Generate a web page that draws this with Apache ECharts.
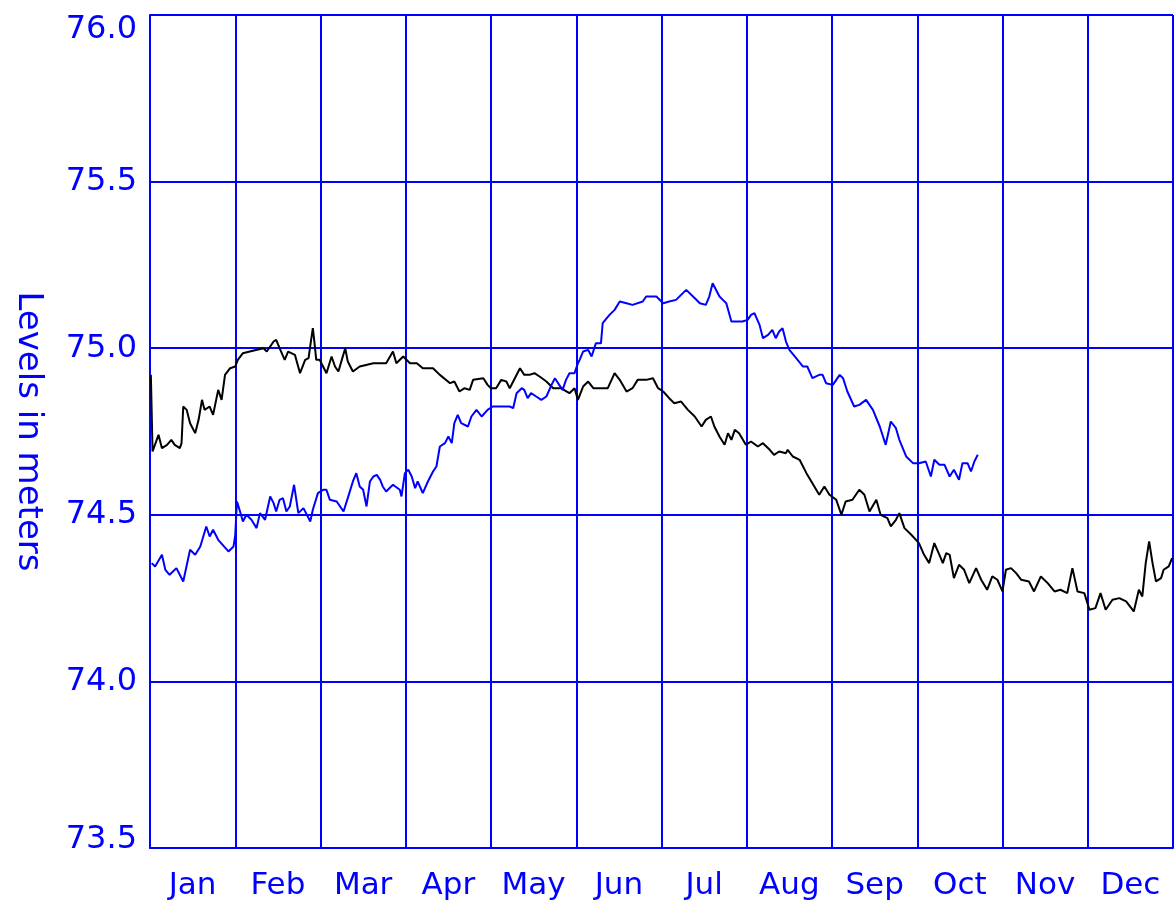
<!DOCTYPE html>
<html>
<head>
<meta charset="utf-8">
<script src="https://cdn.jsdelivr.net/npm/echarts@6/dist/echarts.min.js"></script>
<style>
html,body{margin:0;padding:0;background:#fff;}
#chart{width:1174px;height:902px;}
</style>
</head>
<body>
<div id="chart"></div>
<script>
// Month labels (x in month units: 0 = Jan 1, 12 = end of Dec)
var months = ['Jan','Feb','Mar','Apr','May','Jun','Jul','Aug','Sep','Oct','Nov','Dec'];
var yTicks = [73.5, 74.0, 74.5, 75.0, 75.5, 76.0];

// Black series: [month position, level in meters]
var blackLevels = [
[0.01,74.92],[0.03,74.69],[0.10,74.74],[0.14,74.70],[0.20,74.71],[0.25,74.725],[0.29,74.71],[0.35,74.70],[0.37,74.715],[0.39,74.825],[0.43,74.815],[0.47,74.775],[0.53,74.745],[0.57,74.785],[0.61,74.845],[0.64,74.815],[0.70,74.825],[0.74,74.80],[0.80,74.875],[0.84,74.845],[0.88,74.92],[0.94,74.94],[1.00,74.945],[1.03,74.965],[1.09,74.985],[1.17,74.99],[1.33,75.0],[1.37,74.99],[1.45,75.02],[1.48,75.025],[1.52,75.0],[1.58,74.965],[1.62,74.99],[1.70,74.98],[1.76,74.925],[1.82,74.965],[1.86,74.97],[1.89,75.025],[1.91,75.06],[1.93,75.015],[1.95,74.965],[1.99,74.965],[2.03,74.945],[2.07,74.925],[2.13,74.975],[2.17,74.945],[2.21,74.93],[2.25,74.965],[2.29,75.0],[2.32,74.96],[2.38,74.93],[2.46,74.945],[2.62,74.955],[2.77,74.955],[2.85,74.99],[2.89,74.955],[2.97,74.975],[3.05,74.955],[3.13,74.955],[3.20,74.94],[3.32,74.94],[3.40,74.92],[3.52,74.895],[3.57,74.90],[3.63,74.87],[3.69,74.88],[3.75,74.875],[3.79,74.905],[3.91,74.91],[3.96,74.89],[4.00,74.88],[4.06,74.88],[4.12,74.905],[4.18,74.90],[4.22,74.88],[4.28,74.91],[4.34,74.94],[4.39,74.92],[4.45,74.92],[4.51,74.925],[4.57,74.915],[4.65,74.90],[4.73,74.88],[4.82,74.88],[4.92,74.865],[4.98,74.88],[5.02,74.845],[5.08,74.885],[5.14,74.90],[5.20,74.88],[5.27,74.88],[5.37,74.88],[5.45,74.925],[5.51,74.905],[5.59,74.87],[5.66,74.88],[5.72,74.905],[5.82,74.905],[5.90,74.91],[5.96,74.88],[6.02,74.87],[6.09,74.85],[6.15,74.835],[6.23,74.84],[6.31,74.815],[6.39,74.795],[6.47,74.765],[6.52,74.785],[6.58,74.795],[6.62,74.765],[6.68,74.735],[6.74,74.71],[6.78,74.745],[6.82,74.725],[6.86,74.755],[6.91,74.745],[6.99,74.71],[7.05,74.72],[7.13,74.705],[7.19,74.715],[7.27,74.695],[7.32,74.68],[7.38,74.69],[7.46,74.685],[7.48,74.695],[7.54,74.675],[7.62,74.665],[7.70,74.625],[7.77,74.595],[7.85,74.56],[7.91,74.585],[7.97,74.56],[8.05,74.545],[8.11,74.50],[8.16,74.54],[8.24,74.545],[8.32,74.575],[8.38,74.56],[8.44,74.51],[8.52,74.545],[8.57,74.50],[8.65,74.49],[8.69,74.465],[8.75,74.485],[8.79,74.505],[8.85,74.46],[8.93,74.44],[9.02,74.415],[9.08,74.38],[9.14,74.355],[9.20,74.415],[9.26,74.38],[9.30,74.355],[9.34,74.385],[9.38,74.38],[9.43,74.31],[9.49,74.35],[9.55,74.335],[9.61,74.295],[9.69,74.34],[9.75,74.305],[9.82,74.275],[9.88,74.315],[9.94,74.305],[10.00,74.27],[10.04,74.335],[10.10,74.34],[10.16,74.325],[10.22,74.305],[10.31,74.30],[10.37,74.27],[10.45,74.315],[10.53,74.295],[10.61,74.27],[10.68,74.275],[10.76,74.265],[10.82,74.34],[10.88,74.27],[10.96,74.265],[11.02,74.215],[11.09,74.22],[11.15,74.265],[11.21,74.215],[11.29,74.245],[11.37,74.25],[11.45,74.24],[11.54,74.21],[11.60,74.275],[11.64,74.255],[11.68,74.355],[11.72,74.42],[11.76,74.355],[11.80,74.30],[11.86,74.31],[11.89,74.335],[11.95,74.345],[11.99,74.37]
];

// Blue series: [month position, level in meters]
var blueLevels = [
[0.02,74.355],[0.06,74.345],[0.14,74.38],[0.18,74.335],[0.23,74.32],[0.31,74.34],[0.39,74.30],[0.47,74.395],[0.53,74.38],[0.59,74.405],[0.66,74.465],[0.70,74.435],[0.74,74.455],[0.80,74.425],[0.92,74.39],[0.98,74.405],[1.00,74.44],[1.02,74.54],[1.05,74.515],[1.09,74.48],[1.13,74.50],[1.19,74.485],[1.25,74.46],[1.29,74.505],[1.35,74.485],[1.41,74.555],[1.45,74.535],[1.48,74.51],[1.52,74.545],[1.56,74.55],[1.60,74.51],[1.64,74.525],[1.69,74.59],[1.74,74.505],[1.80,74.52],[1.88,74.48],[1.91,74.515],[1.97,74.565],[2.03,74.575],[2.07,74.575],[2.11,74.545],[2.19,74.54],[2.27,74.51],[2.32,74.55],[2.38,74.60],[2.42,74.625],[2.46,74.585],[2.50,74.575],[2.54,74.525],[2.58,74.60],[2.62,74.615],[2.66,74.62],[2.70,74.605],[2.73,74.585],[2.77,74.57],[2.85,74.59],[2.93,74.575],[2.95,74.555],[2.99,74.625],[3.03,74.635],[3.07,74.615],[3.11,74.58],[3.14,74.60],[3.20,74.565],[3.26,74.60],[3.32,74.63],[3.36,74.645],[3.40,74.705],[3.46,74.715],[3.50,74.735],[3.54,74.715],[3.57,74.775],[3.61,74.80],[3.65,74.775],[3.73,74.765],[3.77,74.795],[3.83,74.815],[3.89,74.795],[3.96,74.815],[4.02,74.825],[4.14,74.825],[4.22,74.825],[4.26,74.82],[4.30,74.865],[4.36,74.88],[4.39,74.875],[4.43,74.85],[4.47,74.865],[4.53,74.855],[4.59,74.845],[4.65,74.855],[4.71,74.89],[4.75,74.91],[4.80,74.89],[4.84,74.875],[4.88,74.905],[4.92,74.925],[4.98,74.925],[5.02,74.955],[5.04,74.965],[5.08,74.99],[5.14,74.995],[5.18,74.975],[5.23,75.015],[5.29,75.015],[5.31,75.075],[5.39,75.10],[5.45,75.115],[5.51,75.14],[5.59,75.135],[5.66,75.13],[5.78,75.14],[5.82,75.155],[5.94,75.155],[6.02,75.135],[6.09,75.14],[6.17,75.145],[6.29,75.175],[6.37,75.155],[6.45,75.135],[6.52,75.13],[6.56,75.155],[6.60,75.195],[6.68,75.155],[6.72,75.145],[6.76,75.135],[6.82,75.08],[6.88,75.08],[6.95,75.08],[7.01,75.085],[7.05,75.10],[7.09,75.105],[7.15,75.07],[7.19,75.03],[7.25,75.04],[7.30,75.055],[7.34,75.03],[7.38,75.05],[7.42,75.06],[7.46,75.02],[7.50,74.995],[7.58,74.97],[7.66,74.945],[7.71,74.945],[7.77,74.91],[7.85,74.92],[7.89,74.92],[7.93,74.895],[8.01,74.89],[8.09,74.92],[8.13,74.91],[8.18,74.87],[8.26,74.825],[8.32,74.83],[8.40,74.845],[8.48,74.815],[8.56,74.765],[8.63,74.71],[8.69,74.78],[8.75,74.76],[8.79,74.725],[8.81,74.72],[8.87,74.675],[8.95,74.655],[9.02,74.655],[9.10,74.66],[9.16,74.615],[9.20,74.665],[9.26,74.65],[9.32,74.65],[9.38,74.615],[9.43,74.635],[9.49,74.605],[9.53,74.655],[9.59,74.655],[9.63,74.63],[9.67,74.66],[9.71,74.68]
];

var BLUE = '#0000ff';
var FONT = 'DejaVu Sans';

var chart = echarts.init(document.getElementById('chart'), null, {renderer: 'canvas'});
chart.setOption({
  animation: false,
  backgroundColor: '#ffffff',
  grid: {left: 150, right: 1, top: 15, bottom: 54, containLabel: false, outerBoundsMode: 'none'},
  xAxis: [
    {
      type: 'value', min: 0, max: 12, interval: 1,
      axisLine: {show: true, lineStyle: {color: BLUE, width: 2}},
      axisTick: {show: false},
      axisLabel: {show: false},
      splitLine: {show: true, lineStyle: {color: BLUE, width: 2}}
    },
    {
      type: 'category', data: months, position: 'bottom', boundaryGap: true,
      axisLine: {show: false}, axisTick: {show: false},
      splitLine: {show: false},
      axisLabel: {color: BLUE, fontFamily: FONT, fontSize: 31, margin: 22}
    }
  ],
  yAxis: {
    type: 'value', min: yTicks[0], max: yTicks[yTicks.length - 1], interval: 0.5,
    name: 'Levels in meters', nameLocation: 'middle', nameRotate: -90, nameGap: 105,
    nameTextStyle: {color: BLUE, fontFamily: FONT, fontSize: 34},
    axisLine: {show: true, lineStyle: {color: BLUE, width: 2}},
    axisTick: {show: false},
    splitLine: {show: true, lineStyle: {color: BLUE, width: 2}},
    axisLabel: {
      color: BLUE, fontFamily: FONT, fontSize: 32, margin: 13,
      formatter: function (v) {
        var s = v.toFixed(1);
        if (v === yTicks[yTicks.length - 1]) return '{t|' + s + '}';
        if (v === yTicks[0]) return '{b|' + s + '}';
        return s;
      },
      rich: {
        t: {color: BLUE, fontFamily: FONT, fontSize: 32, padding: [30, 0, 0, 0]},
        b: {color: BLUE, fontFamily: FONT, fontSize: 32, padding: [0, 0, 16, 0]}
      }
    }
  },
  series: [
    {
      type: 'line', name: 'black', xAxisIndex: 0, data: blackLevels,
      showSymbol: false, symbol: 'none',
      lineStyle: {color: '#000000', width: 2}
    },
    {
      type: 'line', name: 'blue', xAxisIndex: 0, data: blueLevels,
      showSymbol: false, symbol: 'none',
      lineStyle: {color: BLUE, width: 2}
    }
  ]
});
</script>
</body>
</html>
